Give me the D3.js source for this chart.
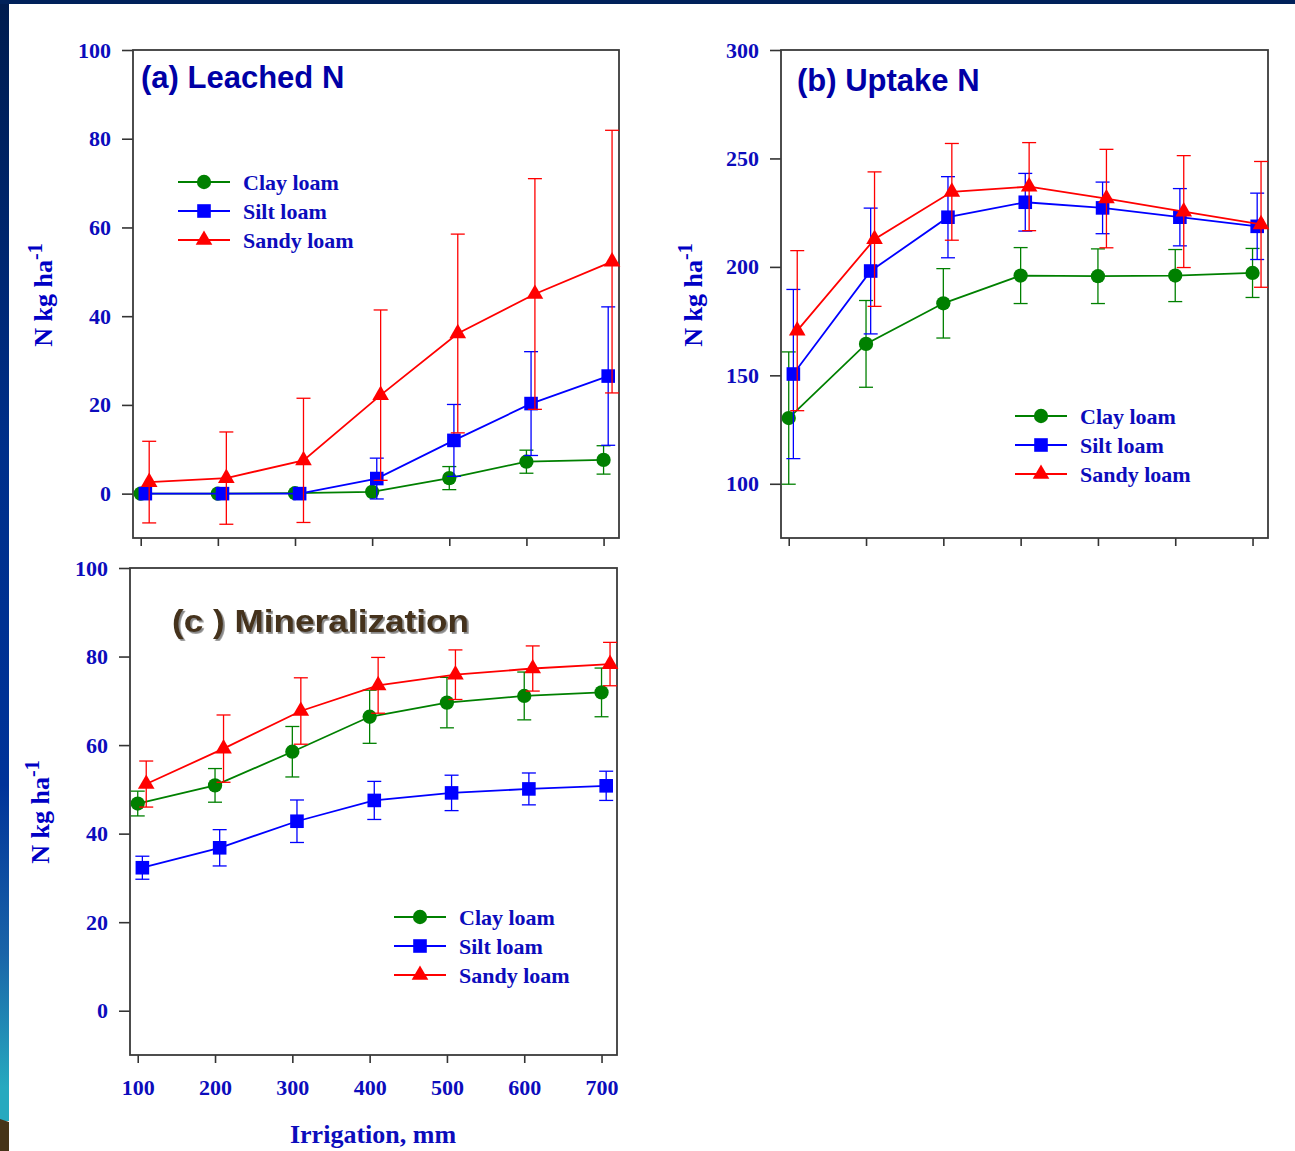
<!DOCTYPE html>
<html>
<head>
<meta charset="utf-8">
<script src="https://cdn.jsdelivr.net/npm/d3@7"></script>
<style>
  html, body { margin: 0; padding: 0; background: #fff; }
  svg { display: block; }
</style>
</head>
<body>
<div id="showBox"></div>
<script>
// irrigation levels (mm) and soil classes
const irrigation = [100, 200, 300, 400, 500, 600, 700];
const soils = ["Clay loam", "Silt loam", "Sandy loam"];
const soilColors = ["#008000", "#0000ff", "#ff0000"];
const soilShift = [0, 6, 11]; // small x offset per series, mm

// (a) leached N
const leachedClay = [0, 0, 0.1, 0.4, 3.5, 7.2, 7.6];
const leachedClayErr = [0, 0, 0, 0, 2.6, 2.6, 3.2];
const leachedSilt = [0, 0, 0, 3.4, 12.0, 20.3, 26.5];
const leachedSiltErr = [0, 0, 0, 4.6, 8.1, 11.7, 15.6];
const leachedSandy = [2.6, 3.5, 7.5, 22.2, 36.1, 45.0, 52.3];
const leachedSandyErr = [9.2, 10.4, 14.0, 19.2, 22.4, 26.0, 29.6];

// (b) uptake N
const uptakeClay = [130.3, 164.5, 183.2, 196.0, 195.7, 196.0, 197.2];
const uptakeClayErr = [30.5, 20.0, 16.0, 12.9, 12.6, 12.0, 11.3];
const uptakeSilt = [150.6, 198.1, 222.9, 229.8, 227.2, 222.9, 218.7];
const uptakeSiltErr = [39.0, 29.0, 18.7, 13.3, 11.9, 13.2, 15.3];
const uptakeSandy = [170.6, 212.8, 234.6, 237.0, 231.5, 225.5, 219.6];
const uptakeSandyErr = [36.9, 31.0, 22.3, 20.3, 22.7, 25.8, 29.0];

// (c) mineralization
const mineralClay = [46.8, 50.9, 58.5, 66.4, 69.6, 71.1, 71.9];
const mineralClayErr = [2.8, 3.8, 5.7, 6.0, 5.7, 5.4, 5.5];
const mineralSilt = [32.3, 36.8, 42.8, 47.5, 49.2, 50.1, 50.8];
const mineralSiltErr = [2.6, 4.1, 4.8, 4.3, 4.0, 3.6, 3.3];
const mineralSandy = [51.2, 59.2, 67.7, 73.5, 75.9, 77.3, 78.3];
const mineralSandyErr = [5.2, 7.6, 7.5, 6.3, 5.6, 5.1, 4.9];

const leachedTicks = [0, 20, 40, 60, 80, 100];
const uptakeTicks = [100, 150, 200, 250, 300];
const mineralTicks = [0, 20, 40, 60, 80, 100];

const width = 1295, height = 1151;
const labelBlue = "#0c0cbc";

const panels = [
    {title: "(a) Leached N", titleColor: "#0000a6", titleX: 141, titleY: 88,
     box: {l: 133, r: 619, t: 50, b: 538}, yDomain: [-10, 100], yTicks: leachedTicks,
     series: [[leachedClay, leachedClayErr], [leachedSilt, leachedSiltErr], [leachedSandy, leachedSandyErr]],
     legend: {x: 178, y: 182}, ylab: {x: 52, y: 295}, xLabels: false},
    {title: "(b) Uptake N", titleColor: "#0000a6", titleX: 797, titleY: 91,
     box: {l: 781, r: 1268, t: 50, b: 538}, yDomain: [75, 300], yTicks: uptakeTicks,
     series: [[uptakeClay, uptakeClayErr], [uptakeSilt, uptakeSiltErr], [uptakeSandy, uptakeSandyErr]],
     legend: {x: 1015, y: 416}, ylab: {x: 702, y: 295}, xLabels: false},
    {title: "(c ) Mineralization", titleColor: "#44331a", titleX: 172, titleY: 632, shadow: true,
     box: {l: 130, r: 617, t: 568, b: 1055}, yDomain: [-10, 100], yTicks: mineralTicks,
     series: [[mineralClay, mineralClayErr], [mineralSilt, mineralSiltErr], [mineralSandy, mineralSandyErr]],
     legend: {x: 394, y: 917}, ylab: {x: 49, y: 812}, xLabels: true}
];

const svg = d3.select("#showBox").append("svg")
    .attr("width", width).attr("height", height)
    .attr("viewBox", [0, 0, width, height]);

const defs = svg.append("defs");
const grad = defs.append("linearGradient").attr("id", "sideGrad")
    .attr("x1", 0).attr("y1", 0).attr("x2", 0).attr("y2", 1);
[["0%", "#001c4e"], ["40%", "#002f8a"], ["70%", "#003399"], ["85%", "#1a64a8"], ["97%", "#27a9bf"]]
    .forEach(s => grad.append("stop").attr("offset", s[0]).attr("stop-color", s[1]));

const shadow = defs.append("filter").attr("id", "shadow")
    .attr("x", "-5%").attr("y", "-20%").attr("width", "115%").attr("height", "150%");
shadow.append("feDropShadow").attr("dx", 1.8).attr("dy", 1.8).attr("stdDeviation", 0.6)
    .attr("flood-color", "#7a7a7a").attr("flood-opacity", 0.9);

// slide frame
svg.append("rect").attr("width", width).attr("height", height).attr("fill", "#fff");
svg.append("rect").attr("x", 0).attr("y", 0).attr("width", 9).attr("height", 1121).attr("fill", "url(#sideGrad)");
svg.append("path").attr("d", "M0,1119 L9,1122 L9,1151 L0,1151 Z").attr("fill", "#463418");
svg.append("rect").attr("x", 0).attr("y", 0).attr("width", width).attr("height", 4).attr("fill", "#00215a");

const markers = [
    d3.symbol().type(d3.symbolCircle).size(160),
    d3.symbol().type(d3.symbolSquare).size(185),
    d3.symbol().type(d3.symbolTriangle).size(120)
];

panels.forEach(p => {
    const g = svg.append("g");
    const x = d3.scaleLinear().domain([90, 720]).range([p.box.l, p.box.r]);
    const y = d3.scaleLinear().domain(p.yDomain).range([p.box.b, p.box.t]);

    const yAxis = g.append("g").attr("transform", `translate(${p.box.l},0)`)
        .call(d3.axisLeft(y).tickValues(p.yTicks).tickSize(11).tickPadding(11).tickFormat(d3.format("d")));
    const xAxis = g.append("g").attr("transform", `translate(0,${p.box.b})`)
        .call(d3.axisBottom(x).tickValues(irrigation).tickSize(8).tickPadding(16)
            .tickFormat(p.xLabels ? d3.format("d") : () => ""));
    [yAxis, xAxis].forEach(a => {
        a.select(".domain").remove();
        a.selectAll("line").attr("stroke", "#333").attr("stroke-width", 1.6);
        a.selectAll("text").attr("fill", labelBlue)
            .style("font", "bold 22px 'Liberation Serif', 'Times New Roman', serif");
    });

    g.append("rect")
        .attr("x", p.box.l).attr("y", p.box.t)
        .attr("width", p.box.r - p.box.l).attr("height", p.box.b - p.box.t)
        .attr("fill", "none").attr("stroke", "#3a3a3a").attr("stroke-width", 1.8);

    // y title
    const yl = g.append("text")
        .attr("transform", `translate(${p.ylab.x},${p.ylab.y}) rotate(-90)`)
        .attr("text-anchor", "middle").attr("fill", "#0000c4")
        .style("font", "bold 26px 'Liberation Serif', 'Times New Roman', serif");
    yl.append("tspan").text("N kg ha");
    yl.append("tspan").attr("dy", -10).style("font-size", "20px").text("-1");

    p.series.forEach((s, i) => {
        const vals = s[0], errs = s[1];
        const pts = irrigation.map((v, k) => ({x: x(v + soilShift[i]), v: vals[k], e: errs[k]}));
        const sg = g.append("g");
        const eb = sg.append("g").attr("stroke", soilColors[i]).attr("stroke-width", 1.3).attr("fill", "none");
        pts.filter(d => d.e > 0).forEach(d => {
            eb.append("line").attr("x1", d.x).attr("x2", d.x).attr("y1", y(d.v - d.e)).attr("y2", y(d.v + d.e));
            eb.append("line").attr("x1", d.x - 7).attr("x2", d.x + 7).attr("y1", y(d.v - d.e)).attr("y2", y(d.v - d.e));
            eb.append("line").attr("x1", d.x - 7).attr("x2", d.x + 7).attr("y1", y(d.v + d.e)).attr("y2", y(d.v + d.e));
        });
        sg.append("path").datum(pts)
            .attr("fill", "none").attr("stroke", soilColors[i]).attr("stroke-width", 1.8)
            .attr("d", d3.line().x(d => d.x).y(d => y(d.v)));
        sg.selectAll("path.mk").data(pts).join("path").attr("class", "mk")
            .attr("transform", d => `translate(${d.x},${y(d.v)})`)
            .attr("d", markers[i]()).attr("fill", soilColors[i]);
    });

    // legend
    const lg = g.append("g").attr("transform", `translate(${p.legend.x},${p.legend.y})`);
    soils.forEach((name, i) => {
        const row = lg.append("g").attr("transform", `translate(0,${i * 29})`);
        row.append("line").attr("x1", 0).attr("x2", 52).attr("stroke", soilColors[i]).attr("stroke-width", 1.8);
        row.append("path").attr("transform", "translate(26,0)").attr("d", markers[i]()).attr("fill", soilColors[i]);
        row.append("text").attr("x", 65).attr("y", 8).attr("fill", labelBlue)
            .style("font", "bold 22px 'Liberation Serif', 'Times New Roman', serif").text(name);
    });

    const t = g.append("text").attr("x", p.titleX).attr("y", p.titleY)
        .attr("fill", p.titleColor)
        .style("font", "bold 31px 'Liberation Sans', Arial, sans-serif")
        .text(p.title);
    if (p.shadow) t.attr("filter", "url(#shadow)").attr("textLength", 297).attr("lengthAdjust", "spacingAndGlyphs");
});

svg.append("text").attr("x", 373).attr("y", 1143).attr("text-anchor", "middle")
    .attr("fill", labelBlue)
    .style("font", "bold 26px 'Liberation Serif', 'Times New Roman', serif")
    .text("Irrigation, mm");
</script>
</body>
</html>
